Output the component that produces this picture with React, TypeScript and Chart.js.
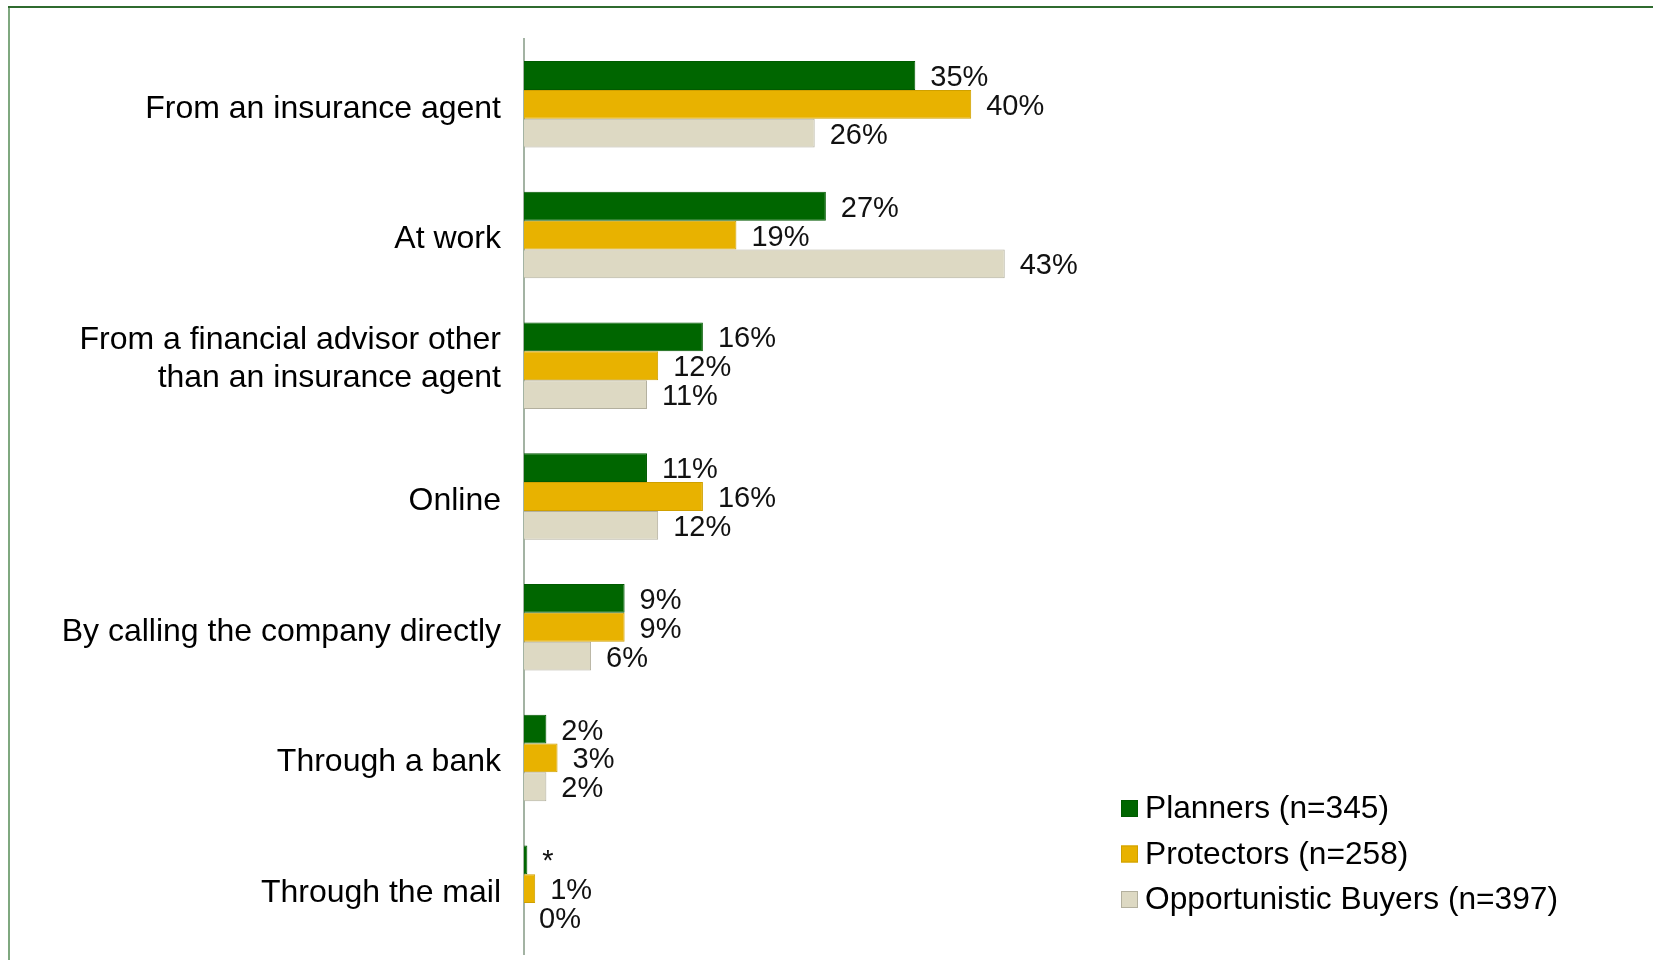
import React, { useEffect, useRef } from "react";
import { Chart, registerables } from "chart.js";

Chart.register(...registerables);

const categories: (string | string[])[] = [
  "From an insurance agent",
  "At work",
  ["From a financial advisor other", "than an insurance agent"],
  "Online",
  "By calling the company directly",
  "Through a bank",
  "Through the mail",
];

const seriesNames = [
  "Planners (n=345)",
  "Protectors (n=258)",
  "Opportunistic Buyers (n=397)",
];

const planners = [35, 27, 16, 11, 9, 2, 0.3];
const protectors = [40, 19, 12, 16, 9, 3, 1];
const opportunistic = [26, 43, 11, 12, 6, 2, 0];

const fillColors = ["#006600", "#E8B200", "#DDD9C3"];
const edgeColors = ["#005A00", "#CFA000", "#B3B09E"];

const FONT = "'Liberation Sans', Arial, sans-serif";

const fmt = (v: number) => (v > 0 && v < 0.5 ? "*" : `${Math.round(v)}%`);

const framePlugin = {
  id: "frame",
  beforeDraw(chart: any) {
    const ctx = chart.ctx;
    ctx.save();
    ctx.fillStyle = "#ffffff";
    ctx.fillRect(0, 0, chart.width, chart.height);
    ctx.lineWidth = 2;
    ctx.strokeStyle = "#7FA87F";
    ctx.beginPath();
    ctx.moveTo(9, 7);
    ctx.lineTo(9, chart.height);
    ctx.stroke();
    ctx.strokeStyle = "#2F6B2F";
    ctx.beginPath();
    ctx.moveTo(8, 7);
    ctx.lineTo(chart.width, 7);
    ctx.stroke();
    ctx.restore();
  },
};

// Category labels drawn at the y scale's own tick positions
const categoryLabelPlugin = {
  id: "categoryLabels",
  afterDraw(chart: any) {
    const ctx = chart.ctx;
    const scale = chart.scales.y;
    const opts = chart.options.plugins.categoryLabels;
    ctx.save();
    ctx.font = `${opts.size}px ${FONT}`;
    ctx.fillStyle = "#000000";
    ctx.textAlign = "right";
    ctx.textBaseline = "middle";
    const xRight = scale.right - opts.padding;
    (chart.data.labels as any[]).forEach((lab: any, i: number) => {
      const cy = scale.getPixelForTick(i);
      if (Array.isArray(lab)) {
        const n = lab.length;
        lab.forEach((line: string, k: number) => {
          const y = cy + opts.multiOffset + (k - (n - 1) / 2) * opts.lineHeight;
          ctx.fillText(line, xRight, y);
        });
      } else {
        ctx.fillText(lab, xRight, cy + opts.singleOffset);
      }
    });
    ctx.restore();
  },
};

const valueLabelPlugin = {
  id: "valueLabels",
  afterDatasetsDraw(chart: any) {
    const ctx = chart.ctx;
    ctx.save();
    ctx.font = `29px ${FONT}`;
    ctx.fillStyle = "#111111";
    ctx.textAlign = "left";
    ctx.textBaseline = "middle";
    chart.data.datasets.forEach((ds: any, di: number) => {
      const meta = chart.getDatasetMeta(di);
      meta.data.forEach((bar: any, i: number) => {
        const v = ds.data[i] as number;
        ctx.fillText(fmt(v), bar.x + 15, bar.y + 2.5);
      });
    });
    ctx.restore();
  },
};

const customLegendPlugin = {
  id: "customLegend",
  afterDraw(chart: any) {
    const ctx = chart.ctx;
    const opts = chart.options.plugins.customLegend;
    ctx.save();
    ctx.font = `31.7px ${FONT}`;
    ctx.textAlign = "left";
    ctx.textBaseline = "middle";
    chart.data.datasets.forEach((ds: any, di: number) => {
      const cy = opts.y + di * opts.pitch;
      ctx.fillStyle = ds.backgroundColor;
      ctx.fillRect(opts.x, cy - opts.box / 2, opts.box, opts.box);
      ctx.strokeStyle = ds.borderColor;
      ctx.lineWidth = 1;
      ctx.strokeRect(opts.x + 0.5, cy - opts.box / 2 + 0.5, opts.box - 1, opts.box - 1);
      ctx.fillStyle = "#000000";
      ctx.fillText(ds.label, opts.x + opts.box + 7, cy + 1);
    });
    ctx.restore();
  },
};

export default function App() {
  const ref = useRef<HTMLCanvasElement | null>(null);

  useEffect(() => {
    document.body.style.margin = "0";
    if (!ref.current) return;
    const seriesValues = [planners, protectors, opportunistic];
    const chart = new Chart(ref.current, {
      type: "bar",
      data: {
        labels: categories,
        datasets: seriesValues.map((vals, i) => ({
          label: seriesNames[i],
          data: vals,
          backgroundColor: fillColors[i],
          borderColor: edgeColors[i],
          borderWidth: 1,
          borderSkipped: "start",
          categoryPercentage: 0.662,
          barPercentage: 1.0,
        })),
      },
      options: {
        indexAxis: "y",
        animation: false,
        responsive: false,
        devicePixelRatio: 1,
        layout: { padding: { top: 39, bottom: 6, right: 11, left: 0 } },
        scales: {
          x: {
            display: false,
            min: 0,
            max: 100,
          },
          y: {
            grid: { display: false, drawTicks: false },
            border: { display: true, color: "#A3B3A3", width: 2 },
            ticks: { display: false },
            afterFit: (scale: any) => {
              scale.width = 524;
              scale.paddingTop = 0;
              scale.paddingBottom = 0;
            },
          },
        },
        plugins: {
          legend: { display: false },
          tooltip: { enabled: false },
          categoryLabels: {
            size: 32,
            padding: 23,
            lineHeight: 38,
            singleOffset: 4.5,
            multiOffset: -6.5,
          },
          customLegend: { x: 1121, y: 808.5, pitch: 45.5, box: 17 },
        } as any,
      },
      plugins: [framePlugin, valueLabelPlugin, categoryLabelPlugin, customLegendPlugin],
    });
    return () => chart.destroy();
  }, []);

  return (
    <div style={{ width: 1653, height: 960 }}>
      <canvas ref={ref} width={1653} height={960} style={{ display: "block" }} />
    </div>
  );
}
